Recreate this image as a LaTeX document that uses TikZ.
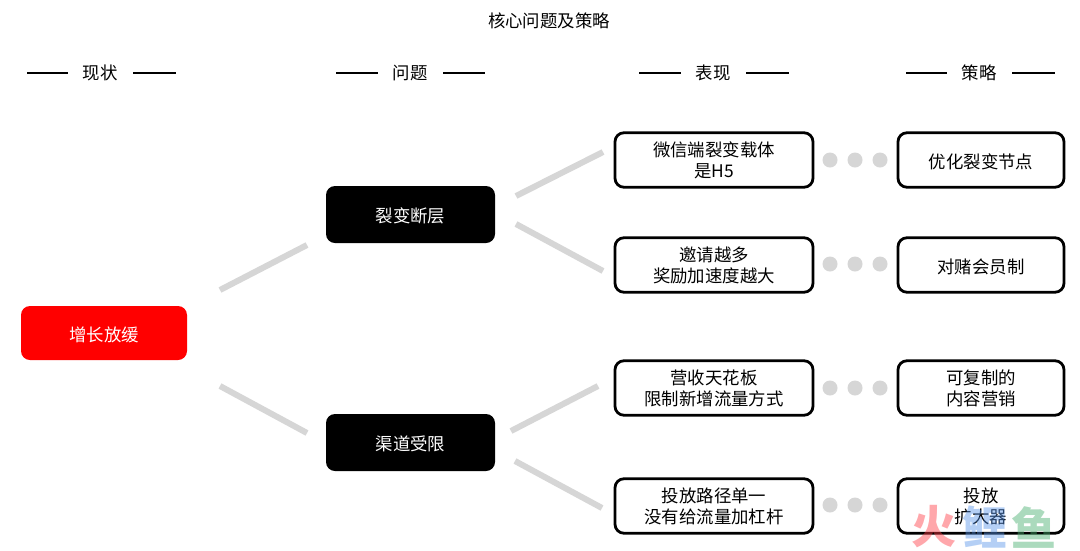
\documentclass[tikz,border=0pt]{standalone}
\usepackage{fontspec}
\setmainfont{Noto Sans CJK SC}
\usetikzlibrary{calc}
\newcommand{\fs}{\fontsize{17.4}{21}\selectfont}
\tikzset{
  x=1pt,y=-1pt,
  base/.style={rounded corners=9pt,align=center,inner sep=0pt,font=\fs,text depth=0pt,execute at begin node={\rule{0pt}{16.5pt}}},
  redbox/.style={base,fill={rgb,255:red,255;green,0;blue,0},text=white,minimum width=166pt,minimum height=54pt},
  blackbox/.style={base,fill=black,text=white,minimum width=169pt,minimum height=57pt},
  whitebox/.style={base,draw=black,line width=2.8pt,fill=white,minimum width=198pt,minimum height=54.5pt},
  stratbox/.style={base,draw=black,line width=2.8pt,fill=white,minimum width=166pt,minimum height=54.5pt},
  twolines/.style={execute at begin node={\vspace*{2pt}}},
  link/.style={draw={rgb,255:red,214;green,214;blue,214},line width=6pt},
  dotnode/.style={circle,fill={rgb,255:red,214;green,214;blue,214},minimum size=15pt,inner sep=0pt},
  headtext/.style={font=\fs,inner sep=0pt},
  rule/.style={draw=black,line width=2.5pt},
  wm/.style={font=\fontsize{45}{45}\selectfont\bfseries,inner sep=0pt,opacity=.45}
}
\begin{document}
\begin{tikzpicture}
\useasboundingbox (0,0) rectangle (1080,550);
\fill[white] (0,0) rectangle (1080,550);
\node[headtext] (title) at (549,21) {核心问题及策略};
\foreach \nm/\t/\cx/\ya/\yb/\yc/\yd in {a/现状/100/27/68/133/176,b/问题/410/336/378/443/485,c/表现/713/639/681/746/789,d/策略/979/906/947/1012/1055}{
  \node[headtext] (h\nm) at (\cx,73) {\t};
  \coordinate (h\nm l1) at (\ya,73);
  \coordinate (h\nm l2) at (\yb,73);
  \coordinate (h\nm r1) at (\yc,73);
  \coordinate (h\nm r2) at (\yd,73);
  \draw[rule] (h\nm l1) -- (h\nm l2);
  \draw[rule] (h\nm r1) -- (h\nm r2);
}
\node[redbox] (root) at (104,333) {增长放缓};
\node[blackbox] (p1) at (410.5,214.5) {裂变断层};
\node[blackbox] (p2) at (410.5,442.5) {渠道受限};
\node[whitebox,twolines] (s1) at (714,160) {微信端裂变载体\\是H5};
\node[whitebox,twolines] (s2) at (714,265) {邀请越多\\奖励加速度越大};
\node[whitebox,twolines] (s3) at (714,388) {营收天花板\\限制新增流量方式};
\node[whitebox,twolines] (s4) at (714,506) {投放路径单一\\没有给流量加杠杆};
\node[stratbox] (t1) at (981,160) {优化裂变节点};
\node[stratbox] (t2) at (981,265) {对赌会员制};
\node[stratbox,twolines] (t3) at (981,388) {可复制的\\内容营销};
\node[stratbox,twolines] (t4) at (981,506) {投放\\扩大器};
\foreach \n/\ay/\by in {a/290/245,b/386/433}{
  \coordinate (l\n1) at (220,\ay); \coordinate (l\n2) at (307,\by);
  \draw[link] (l\n1) -- (l\n2);
}
\coordinate (c1) at (516,196); \coordinate (c2) at (603,152);
\coordinate (c3) at (516,224); \coordinate (c4) at (603,271);
\coordinate (c5) at (511,431); \coordinate (c6) at (598,386);
\coordinate (c7) at (515,461); \coordinate (c8) at (602,508);
\draw[link] (c1) -- (c2);
\draw[link] (c3) -- (c4);
\draw[link] (c5) -- (c6);
\draw[link] (c7) -- (c8);
\foreach \r/\y in {1/160,2/264,3/388,4/505}{
  \node[dotnode] (d\r a) at (830,\y) {};
  \node[dotnode] (d\r b) at (855,\y) {};
  \node[dotnode] (d\r c) at (880,\y) {};
}
\begin{scope}
\clip (0,0) rectangle (1080,550);
\node[wm,text={rgb,255:red,255;green,60;blue,70}] (w1) at (934,527) {火};
\node[wm,text={rgb,255:red,90;green,150;blue,235}] (w2) at (985,527) {鲤};
\node[wm,text={rgb,255:red,70;green,175;blue,110}] (w3) at (1034,527) {鱼};
\end{scope}
\end{tikzpicture}
\end{document}
